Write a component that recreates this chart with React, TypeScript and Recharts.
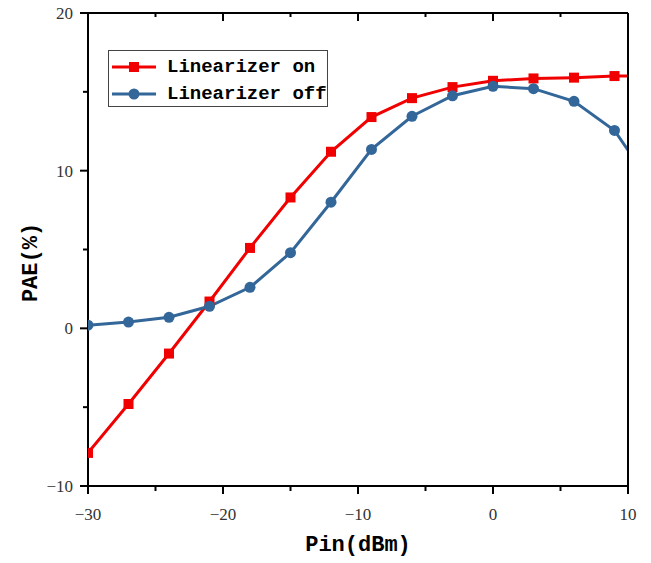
import { LineChart, Line, XAxis, YAxis, Legend } from "recharts";

// input power (dBm); the last point lies past the axis end and is clipped
const pinValues = [-30, -27, -24, -21, -18, -15, -12, -9, -6, -3, 0, 3, 6, 9, 12];
const paeLinOn = [-7.9, -4.8, -1.6, 1.7, 5.1, 8.3, 11.2, 13.4, 14.6, 15.3, 15.7, 15.85, 15.9, 16.0, 16.0];
const paeLinOff = [0.2, 0.4, 0.7, 1.4, 2.6, 4.8, 8.0, 11.35, 13.45, 14.75, 15.35, 15.2, 14.4, 12.55, 8.8];

const seriesNames = ["Linearizer on", "Linearizer off"];

const xTicks = [-30, -25, -20, -15, -10, -5, 0, 5, 10];
const xMajor = [-30, -20, -10, 0, 10];
const yTicks = [-10, -5, 0, 5, 10, 15, 20];
const yMajor = [-10, 0, 10, 20];

const RED = "#f00000";
const BLUE = "#336699";
const MONO = "'Liberation Mono', 'DejaVu Sans Mono', monospace";
const SERIF = "'Liberation Serif', 'DejaVu Serif', serif";

const data = pinValues.map((pin, i) => ({
  pin,
  on: paeLinOn[i],
  off: paeLinOff[i],
}));

const fmt = (v: number) => (v < 0 ? `\u2212${Math.abs(v)}` : `${v}`);

const tickText = { fontFamily: SERIF, fontSize: 17, fill: "#333" };

// ticks drawn by hand so majors and minors get different lengths
function BottomTick({ x, y, payload }: any) {
  const major = xMajor.includes(payload.value);
  return (
    <g>
      <line x1={x} x2={x} y1={y} y2={y + (major ? 8 : 5)} stroke="#000" strokeWidth={2} />
      {major && (
        <text x={x} y={y + 34} textAnchor="middle" style={tickText}>
          {fmt(payload.value)}
        </text>
      )}
    </g>
  );
}

function TopTick({ x, y, payload }: any) {
  const major = xMajor.includes(payload.value);
  return <line x1={x} x2={x} y1={y} y2={y + (major ? 8 : 4)} stroke="#000" strokeWidth={2} />;
}

function LeftTick({ x, y, payload }: any) {
  const major = yMajor.includes(payload.value);
  return (
    <g>
      <line x1={x} x2={x - (major ? 8 : 5)} y1={y} y2={y} stroke="#000" strokeWidth={2} />
      {major && (
        <text x={x - 15} y={y + 6} textAnchor="end" style={tickText}>
          {fmt(payload.value)}
        </text>
      )}
    </g>
  );
}

function RightTick({ x, y, payload }: any) {
  const major = yMajor.includes(payload.value);
  return <line x1={x} x2={x - (major ? 7 : 5)} y1={y} y2={y} stroke="#000" strokeWidth={2} />;
}

function SquareDot({ cx, cy }: any) {
  if (cx == null || cy == null) return null;
  return <rect x={cx - 5} y={cy - 5} width={10} height={10} fill={RED} />;
}

const titleStyle = { fontFamily: MONO, fontSize: 22, fontWeight: 700, fill: "#000" };

function XTitle({ viewBox }: any) {
  const { x, y, width } = viewBox;
  return (
    <text x={x + width / 2} y={y + 65} textAnchor="middle" style={titleStyle}>
      Pin(dBm)
    </text>
  );
}

function YTitle({ viewBox }: any) {
  const { y, height } = viewBox;
  const cx = 37;
  const cy = y + height / 2 + 13;
  return (
    <text
      x={cx}
      y={cy}
      textAnchor="middle"
      transform={`rotate(-90 ${cx} ${cy})`}
      style={titleStyle}
    >
      PAE(%)
    </text>
  );
}

function LegendBox({ payload }: any) {
  const items = [...(payload || [])].sort(
    (a: any, b: any) => seriesNames.indexOf(a.value) - seriesNames.indexOf(b.value)
  );
  return (
    <div
      style={{
        position: "relative",
        width: 218,
        height: 55,
        border: "1px solid #444",
        background: "#fff",
        boxSizing: "content-box",
      }}
    >
      {items.map((item: any, i: number) => (
        <div
          key={item.value}
          style={{
            position: "absolute",
            left: 3,
            top: 2 + i * 27,
            height: 27,
            display: "flex",
            alignItems: "center",
          }}
        >
          <svg width={44} height={14}>
            <line x1={0} x2={44} y1={7} y2={7} stroke={item.color} strokeWidth={3} />
            {item.value === seriesNames[0] ? (
              <rect x={17} y={2} width={10} height={10} fill={item.color} />
            ) : (
              <circle cx={22} cy={7} r={5.5} fill={item.color} />
            )}
          </svg>
          <span
            style={{
              marginLeft: 11,
              fontFamily: MONO,
              fontSize: 19,
              fontWeight: 700,
              color: "#000",
              whiteSpace: "pre",
            }}
          >
            {item.value}
          </span>
        </div>
      ))}
    </div>
  );
}

export default function App() {
  return (
    <div style={{ position: "absolute", left: 0, top: 0, background: "#fff" }}>
      <LineChart
        width={651}
        height={563}
        data={data}
        margin={{ top: 12, right: 22, bottom: 7, left: 0 }}
      >
        <XAxis
          dataKey="pin"
          type="number"
          domain={[-30, 10]}
          allowDataOverflow
          ticks={xTicks}
          interval={0}
          tickSize={0}
          tickMargin={0}
          tick={<BottomTick />}
          axisLine={{ stroke: "#000", strokeWidth: 2 }}
          height={70}
          label={{ content: <XTitle /> }}
        />
        <XAxis
          xAxisId="top"
          orientation="top"
          dataKey="pin"
          type="number"
          domain={[-30, 10]}
          allowDataOverflow
          ticks={xTicks}
          interval={0}
          tickSize={0}
          tickMargin={0}
          tick={<TopTick />}
          axisLine={{ stroke: "#000", strokeWidth: 2 }}
          height={1}
        />
        <YAxis
          type="number"
          domain={[-10, 20]}
          ticks={yTicks}
          interval={0}
          tickSize={0}
          tickMargin={0}
          tick={<LeftTick />}
          axisLine={{ stroke: "#000", strokeWidth: 2 }}
          width={88}
          label={{ content: <YTitle /> }}
        />
        <YAxis
          yAxisId="right"
          orientation="right"
          type="number"
          domain={[-10, 20]}
          ticks={yTicks}
          interval={0}
          tickSize={0}
          tickMargin={0}
          tick={<RightTick />}
          axisLine={{ stroke: "#000", strokeWidth: 2 }}
          width={1}
        />
        <Legend
          layout="vertical"
          align="center"
          verticalAlign="middle"
          content={<LegendBox />}
          wrapperStyle={{ left: 108, top: 50, width: 220, height: 57 }}
        />
        <Line
          name={seriesNames[0]}
          dataKey="on"
          stroke={RED}
          strokeWidth={3}
          dot={<SquareDot />}
          activeDot={false}
          isAnimationActive={false}
        />
        <Line
          name={seriesNames[1]}
          dataKey="off"
          stroke={BLUE}
          strokeWidth={3}
          dot={{ r: 5.5, fill: BLUE, stroke: BLUE, strokeWidth: 0 }}
          activeDot={false}
          isAnimationActive={false}
        />
      </LineChart>
    </div>
  );
}
